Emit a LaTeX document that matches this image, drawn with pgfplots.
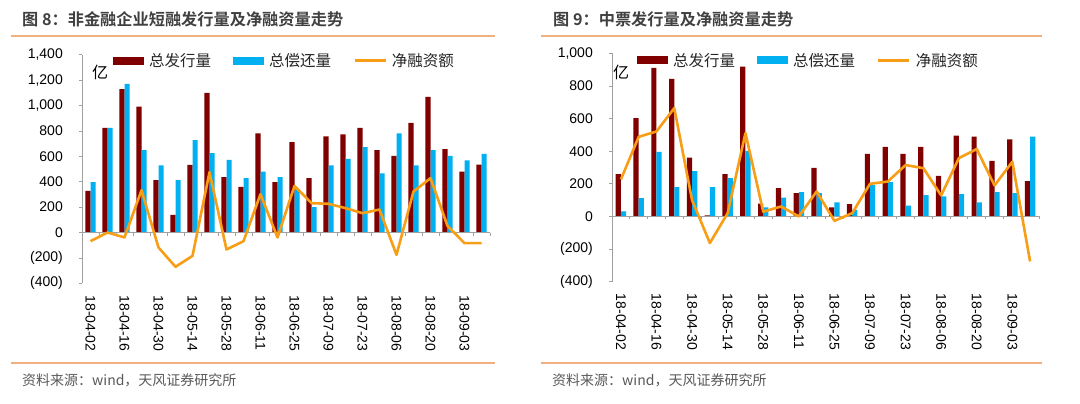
\documentclass[border=0pt]{standalone}
\usepackage{fontspec}
\setmainfont{Liberation Sans}
\newfontfamily\cjk{Noto Sans CJK SC}
\newfontfamily\cjkb{Noto Sans CJK SC Bold}
\usepackage{pgfplots}
\usepackage{pgfplotstable}
\pgfplotsset{compat=1.18}
\definecolor{dred}{RGB}{128,0,0}
\definecolor{lblue}{RGB}{0,176,240}
\definecolor{orng}{RGB}{248,158,22}
\definecolor{sepc}{RGB}{240,176,128}
\definecolor{axc}{RGB}{160,160,160}
\definecolor{titc}{RGB}{64,64,64}
\definecolor{footc}{RGB}{89,89,89}

\pgfplotstableread{
x issue repay net
0 328 396 -68
1 824 824 0
2 1129 1171 -39
3 992 648 333
4 412 528 -118
5 139 412 -270
6 533 727 -184
7 1100 625 475
8 436 572 -134
9 360 428 -68
10 780 480 302
11 396 436 -39
12 711 344 367
13 428 199 231
14 756 528 226
15 772 580 192
16 824 672 152
17 648 465 181
18 604 780 -176
19 864 528 323
20 1068 648 428
21 656 604 52
22 480 567 -84
23 535 619 -84
}\leftdata

\pgfplotstableread{
x issue repay net
0 259 31 227
1 603 112 488
2 911 396 521
3 844 180 664
4 360 278 100
5 6 180 -163
6 259 235 20
7 919 402 511
8 78 55 29
9 174 116 61
10 143 149 0
11 298 143 153
12 55 86 -27
13 76 41 20
14 384 192 200
15 427 210 214
16 384 67 315
17 427 131 296
18 249 123 129
19 496 137 358
20 490 86 413
21 341 149 190
22 472 143 335
23 217 490 -276
}\rightdata

\pgfplotsset{
  mychart/.style={
    scale only axis,
    axis y line=left,
    axis x line=bottom,
    x axis line style={draw=none},
    y axis line style={draw=axc, line width=0.8bp, -},
    xtick style={draw=none},
    ytick style={draw=axc, line width=0.8bp},
    tick align=outside,
    major tick length=3bp,
    xmin=-0.5, xmax=23.5,
    xtick={0,2,...,22},
    xticklabels={18-04-02,18-04-16,18-04-30,18-05-14,18-05-28,18-06-11,18-06-25,18-07-09,18-07-23,18-08-06,18-08-20,18-09-03},
    xticklabel style={rotate=-90, anchor=west, inner sep=0pt, font=\fontsize{14bp}{16bp}\selectfont, xshift=9bp},
    yticklabel style={anchor=east, inner sep=0pt, font=\fontsize{14bp}{16bp}\selectfont, xshift=-16bp},
    clip=false,
    legend columns=3,
    legend style={draw=none, fill=none, inner sep=0pt,
      font=\cjk\fontsize{15.5bp}{17bp}\selectfont, text=black!85,
      nodes={inner sep=0pt},
      /tikz/every odd column/.append style={column sep=5bp},
      /tikz/every even column/.append style={column sep=22bp}},
  },
  barleg/.style={legend image code/.code={\fill[##1] (0bp,-4bp) rectangle (31bp,4bp);}},
  lineleg/.style={legend image code/.code={\draw[##1] (0bp,0bp) -- (31bp,0bp);}},
}

\begin{document}
\begin{tikzpicture}
\path[use as bounding box] (0,0) rectangle (1080bp,-404bp);

% titles and frame lines
\node[anchor=west, inner sep=0pt, text=titc, font=\cjkb\fontsize{16.2bp}{18bp}\selectfont] at (22bp,-19bp) {图 8：非金融企业短融发行量及净融资量走势};
\node[anchor=west, inner sep=0pt, text=titc, font=\cjkb\fontsize{16.2bp}{18bp}\selectfont] at (553bp,-19bp) {图 9：中票发行量及净融资量走势};
\draw[sepc, line width=1.8bp] (11bp,-36bp) -- (495bp,-36bp);
\draw[sepc, line width=1.8bp] (541bp,-36bp) -- (1042bp,-36bp);
\draw[sepc, line width=1.8bp] (11bp,-363bp) -- (495bp,-363bp);
\draw[sepc, line width=1.8bp] (541bp,-363bp) -- (1042bp,-363bp);
\node[anchor=west, inner sep=0pt, text=footc, font=\cjk\fontsize{14bp}{16bp}\selectfont] at (22bp,-380bp) {资料来源：wind，天风证券研究所};
\node[anchor=west, inner sep=0pt, text=footc, font=\cjk\fontsize{14bp}{16bp}\selectfont] at (552bp,-380bp) {资料来源：wind，天风证券研究所};

% left chart
\begin{axis}[mychart, at={(82bp,-283.3bp)}, anchor=south west,
  width=408bp, height=228.6bp,
  ymin=-400, ymax=1400, ytick={-400,-200,...,1400},
  yticklabels={(400),(200),0,200,400,600,800,{1,000},{1,200},{1,400}},
  legend style={at={(0.076,0.974)}, anchor=west}]
\addplot[ybar, bar width=5.2bp, bar shift=-2.6bp, fill=dred, draw=none, barleg] table[x=x,y=issue] {\leftdata};
\addlegendentry{总发行量}
\addplot[ybar, bar width=5.2bp, bar shift=2.6bp, fill=lblue, draw=none, barleg] table[x=x,y=repay] {\leftdata};
\addlegendentry{总偿还量}
\draw[axc, line width=0.8bp] (axis cs:-0.5,0) -- (axis cs:23.5,0);
\pgfplotsinvokeforeach{-0.5,0.5,...,23.5}{\draw[axc, line width=0.8bp] (axis cs:#1,0) -- ([yshift=-3bp]axis cs:#1,0);}
\addplot[orng, line width=2.6bp, line join=round, mark=none, lineleg] table[x=x,y=net] {\leftdata};
\addlegendentry{净融资额}
\end{axis}
\node[font=\cjk\fontsize{16bp}{18bp}\selectfont, inner sep=0pt] at (100bp,-72bp) {亿};

% right chart
\begin{axis}[mychart, at={(612bp,-281.7bp)}, anchor=south west,
  width=427bp, height=228.4bp,
  ymin=-400, ymax=1000, ytick={-400,-200,...,1000},
  yticklabels={(400),(200),0,200,400,600,800,{1,000}},
  legend style={at={(0.0585,0.969)}, anchor=west}]
\addplot[ybar, bar width=5.2bp, bar shift=-2.6bp, fill=dred, draw=none, barleg] table[x=x,y=issue] {\rightdata};
\addlegendentry{总发行量}
\addplot[ybar, bar width=5.2bp, bar shift=2.6bp, fill=lblue, draw=none, barleg] table[x=x,y=repay] {\rightdata};
\addlegendentry{总偿还量}
\draw[axc, line width=0.8bp] (axis cs:-0.5,0) -- (axis cs:23.5,0);
\pgfplotsinvokeforeach{-0.5,0.5,...,23.5}{\draw[axc, line width=0.8bp] (axis cs:#1,0) -- ([yshift=-3bp]axis cs:#1,0);}
\addplot[orng, line width=2.6bp, line join=round, mark=none, lineleg] table[x=x,y=net] {\rightdata};
\addlegendentry{净融资额}
\end{axis}
\node[font=\cjk\fontsize{16bp}{18bp}\selectfont, inner sep=0pt] at (621bp,-72bp) {亿};
\end{tikzpicture}
\end{document}
